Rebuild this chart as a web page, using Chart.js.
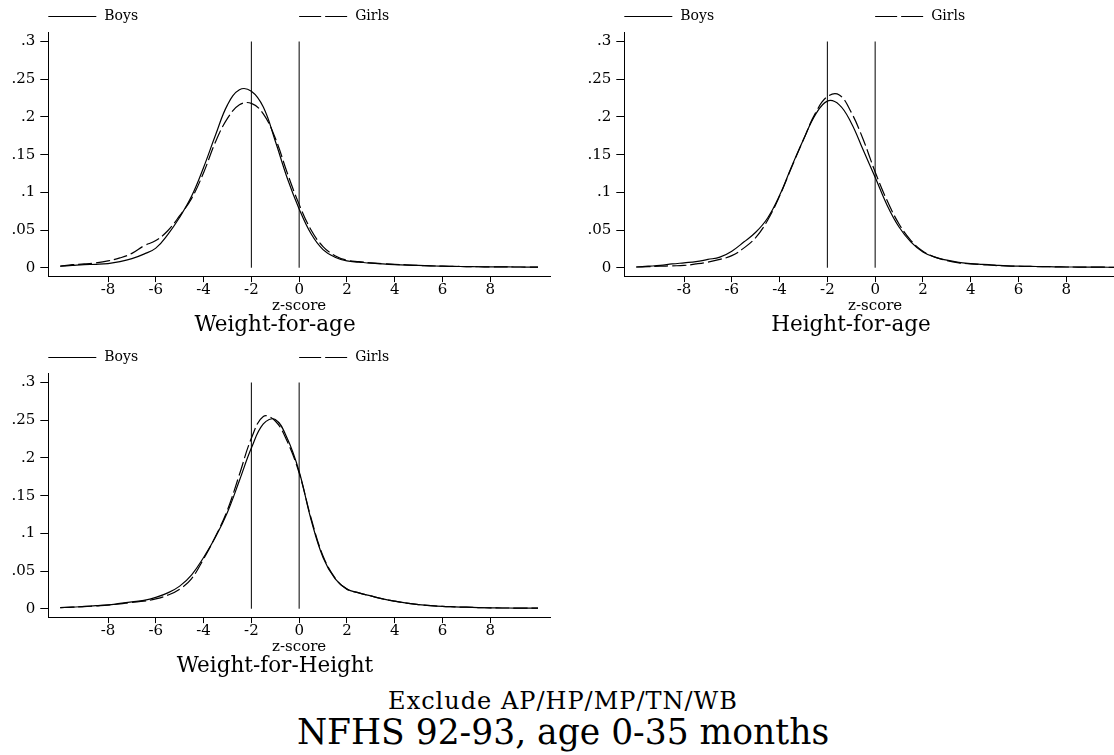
<!DOCTYPE html>
<html>
<head>
<meta charset="utf-8">
<title>NFHS 92-93 z-score densities</title>
<script src="https://cdn.jsdelivr.net/npm/chart.js@4"></script>
<style>
    body { margin: 0; background: #fff; width: 1114px; height: 755px; overflow: hidden; position: relative; font-family: "DejaVu Serif", serif; color: #000; }
    canvas { position: absolute; }
    .note { position: absolute; left: 0; width: 1126px; text-align: center; white-space: nowrap; }
</style>
</head>
<body>
<canvas id="wfa" width="552" height="336" style="left:0;top:0"></canvas>
<canvas id="hfa" width="552" height="336" style="left:575.6px;top:0"></canvas>
<canvas id="wfh" width="552" height="336" style="left:0;top:341px"></canvas>
<div class="note" style="top:688px;font-size:24px;line-height:26px;letter-spacing:1px">Exclude AP/HP/MP/TN/WB</div>
<div class="note" style="top:713px;font-size:34.5px;line-height:38px">NFHS 92-93, age 0-35 months</div>

<script>
// z-score grid the densities are read at
const zScores = [-10, -9.5, -9, -8.5, -8, -7.5, -7, -6.5, -6, -5.5, -5, -4.5, -4, -3.5, -3, -2.5, -2, -1.5, -1, -0.5,
    0, 0.5, 1, 1.5, 2, 2.5, 3, 3.5, 4, 4.5, 5, 5.5, 6, 6.5, 7, 7.5, 8, 8.5, 9, 9.5, 10];

// Weight-for-age
const wfaBoys = [0.002, 0.003, 0.004, 0.0045, 0.0055, 0.008, 0.012, 0.018, 0.026, 0.044, 0.067, 0.095, 0.133, 0.176, 0.216, 0.236, 0.234, 0.213, 0.168, 0.119,
    0.078, 0.045, 0.024, 0.014, 0.009, 0.0075, 0.006, 0.005, 0.0042, 0.0035, 0.003, 0.0025, 0.002, 0.0018, 0.0015, 0.0013, 0.0012, 0.0011, 0.001, 0.0009, 0.0008];
const wfaGirls = [0.002, 0.004, 0.005, 0.0065, 0.009, 0.013, 0.019, 0.029, 0.036, 0.049, 0.069, 0.092, 0.126, 0.167, 0.198, 0.216, 0.218, 0.204, 0.172, 0.126,
    0.084, 0.05, 0.028, 0.016, 0.01, 0.008, 0.0065, 0.0055, 0.0045, 0.0038, 0.003, 0.0025, 0.002, 0.0018, 0.0015, 0.0013, 0.0012, 0.0011, 0.001, 0.0009, 0.0008];

// Height-for-age
const hfaBoys = [0.001, 0.002, 0.003, 0.005, 0.0065, 0.008, 0.011, 0.014, 0.022, 0.034, 0.047, 0.066, 0.096, 0.134, 0.17, 0.203, 0.221, 0.216, 0.192, 0.156,
    0.12, 0.083, 0.054, 0.034, 0.021, 0.014, 0.01, 0.007, 0.0055, 0.0045, 0.0035, 0.0025, 0.002, 0.0017, 0.0015, 0.0012, 0.001, 0.0009, 0.0008, 0.0007, 0.0006];
const hfaGirls = [0.001, 0.0015, 0.002, 0.0025, 0.003, 0.005, 0.0075, 0.011, 0.016, 0.026, 0.04, 0.063, 0.095, 0.133, 0.17, 0.205, 0.227, 0.229, 0.206, 0.17,
    0.127, 0.089, 0.058, 0.036, 0.022, 0.014, 0.0095, 0.0065, 0.005, 0.004, 0.003, 0.0025, 0.002, 0.0017, 0.0015, 0.0012, 0.001, 0.0009, 0.0008, 0.0007, 0.0006];

// Weight-for-Height
const wfhBoys = [0.0015, 0.002, 0.003, 0.004, 0.005, 0.007, 0.009, 0.011, 0.015, 0.021, 0.03, 0.045, 0.068, 0.095, 0.128, 0.17, 0.213, 0.245, 0.251, 0.226,
    0.182, 0.118, 0.068, 0.04, 0.026, 0.021, 0.017, 0.013, 0.01, 0.0075, 0.0055, 0.004, 0.003, 0.0025, 0.002, 0.0015, 0.0012, 0.001, 0.0009, 0.0008, 0.0007];
const wfhGirls = [0.0015, 0.002, 0.0028, 0.0038, 0.0048, 0.0065, 0.0085, 0.01, 0.013, 0.018, 0.026, 0.04, 0.066, 0.096, 0.131, 0.178, 0.226, 0.255, 0.249, 0.222,
    0.18, 0.12, 0.07, 0.041, 0.026, 0.021, 0.017, 0.013, 0.01, 0.0075, 0.0055, 0.004, 0.003, 0.0025, 0.002, 0.0015, 0.0012, 0.001, 0.0009, 0.0008, 0.0007];

// Axis ticks and the cut-off lines
const xTicks = [-8, -6, -4, -2, 0, 2, 4, 6, 8];
const xTickLabels = ['-8', '-6', '-4', '-2', '0', '2', '4', '6', '8'];
const yTicks = [0, 0.05, 0.1, 0.15, 0.2, 0.25, 0.3];
const yTickLabels = ['0', '.05', '.1', '.15', '.2', '.25', '.3'];
const refLines = [-2, 0];
const refTop = 0.3;
const seriesNames = ['Boys', 'Girls'];

const FONT = '"DejaVu Serif", serif';

// Draws the Stata style key above the plot: Boys at the left, Girls from the middle
const keyPlugin = {
    id: 'key',
    afterDraw(chart) {
        const ctx = chart.ctx;
        const area = chart.chartArea;
        const y = 16;
        const starts = [area.left, (area.left + area.right) / 2];
        ctx.save();
        ctx.font = '14px ' + FONT;
        ctx.fillStyle = '#000';
        ctx.textBaseline = 'middle';
        [0, 1].forEach(i => {
            const ds = chart.data.datasets[i];
            ctx.strokeStyle = '#000';
            ctx.lineWidth = 1;
            ctx.setLineDash(i === 0 ? [] : [22, 4]);
            ctx.beginPath();
            ctx.moveTo(starts[i], y + 0.5);
            ctx.lineTo(starts[i] + 48, y + 0.5);
            ctx.stroke();
            ctx.setLineDash([]);
            ctx.fillText(ds.label, starts[i] + 56, y);
        });
        ctx.restore();
    }
};

function toPoints(values) {
    return zScores.map((z, i) => ({ x: z, y: values[i] }));
}

function makePanel(canvasId, title, boys, girls) {
    const datasets = [
        { label: seriesNames[0], data: toPoints(boys), borderColor: '#000', borderWidth: 1.2, pointRadius: 0, tension: 0.4 },
        { label: seriesNames[1], data: toPoints(girls), borderColor: '#000', borderWidth: 1.2, borderDash: [14, 4], pointRadius: 0, tension: 0.4 }
    ];
    refLines.forEach(v => {
        datasets.push({ label: 'ref', data: [{ x: v, y: 0 }, { x: v, y: refTop }], borderColor: '#000', borderWidth: 1, pointRadius: 0, tension: 0 });
    });

    new Chart(document.getElementById(canvasId), {
        type: 'line',
        data: { datasets: datasets },
        options: {
            responsive: false,
            animation: false,
            devicePixelRatio: 1,
            layout: { padding: { top: 32, right: 2, left: 0, bottom: 0 } },
            plugins: {
                legend: { display: false },
                tooltip: { enabled: false },
                title: {
                    display: true,
                    text: title,
                    position: 'bottom',
                    color: '#000',
                    font: { family: FONT, size: 21.5, weight: 'normal', lineHeight: 1 },
                    padding: 0
                }
            },
            scales: {
                x: {
                    type: 'linear',
                    min: -10.5,
                    max: 10.5,
                    afterBuildTicks: s => { s.ticks = xTicks.map(v => ({ value: v })); },
                    afterFit: s => { s.height = 38.4; },
                    grid: { drawOnChartArea: false, drawTicks: true, tickLength: 6, color: '#000' },
                    border: { display: true, color: '#000', width: 1 },
                    ticks: {
                        autoSkip: false, maxRotation: 0, padding: -1, color: '#000',
                        font: { family: FONT, size: 15 },
                        callback: v => xTickLabels[xTicks.indexOf(v)]
                    },
                    title: {
                        display: true, text: 'z-score', color: '#000', padding: 0,
                        font: { family: FONT, size: 15, lineHeight: 1.1 }
                    }
                },
                y: {
                    min: -0.0111,
                    max: 0.3126,
                    afterBuildTicks: s => { s.ticks = yTicks.map(v => ({ value: v })); },
                    afterFit: s => { s.width = 48.3; },
                    grid: { drawOnChartArea: false, drawTicks: true, tickLength: 8, color: '#000' },
                    border: { display: true, color: '#000', width: 1 },
                    ticks: {
                        autoSkip: false, padding: 5, color: '#000',
                        font: { family: FONT, size: 15 },
                        callback: v => yTickLabels[yTicks.indexOf(v)]
                    }
                }
            }
        },
        plugins: [keyPlugin]
    });
}

document.addEventListener('DOMContentLoaded', function() {
    makePanel('wfa', 'Weight-for-age', wfaBoys, wfaGirls);
    makePanel('hfa', 'Height-for-age', hfaBoys, hfaGirls);
    makePanel('wfh', 'Weight-for-Height', wfhBoys, wfhGirls);
});
</script>
</body>
</html>
